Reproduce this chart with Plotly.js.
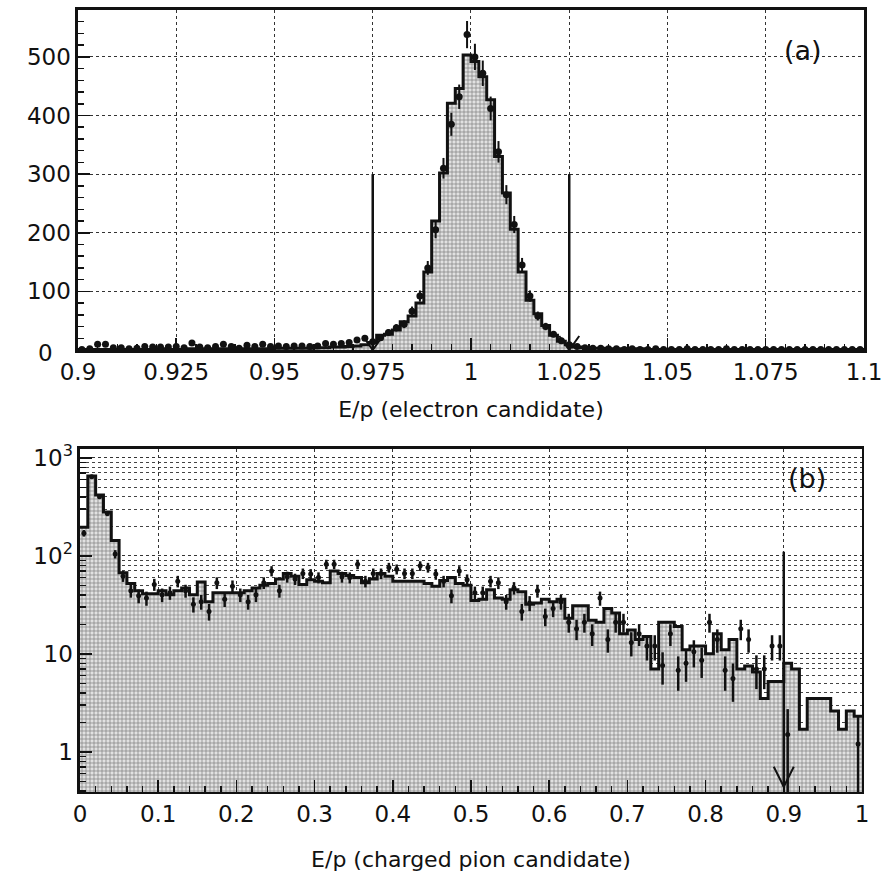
<!DOCTYPE html>
<html><head><meta charset="utf-8">
<script src="https://cdn.plot.ly/plotly-3.0.1.min.js"></script>
<style>html,body{margin:0;padding:0;background:#fff}</style>
</head><body><div id="chart" style="width:882px;height:875px"></div>
<script>
// ---- panel (a): E/p electron candidates, 100 bins 0.9-1.1 ----
const elecBinStart = 0.9, elecBinWidth = 0.002;
const elecMC = [1,1,1,1,1,1,1,1,1,1, 2,1,1,1,2,1,2,1,2,2, 2,2,2,2,2,3,3,3,3,3, 4,4,5,5,6,7,9,13,
  25,27,34,48,58,80,133,220,302,421,446,503,492,466,427,330,268,206,133,85,62,42,25,15,9,5,4,3,3,2,2,2,2,2,
  1,1,1,1,1,1,1,1,1,1,1,1,1,1,1,1,1,1,1,1,1,1,1,1,1,1,1,1];
const elecData = [1,2,10,10,4,4,2,3,6,5, 5,5,6,4,12,5,4,6,10,6, 3,8,6,10,6,7,6,7,7,6, 7,11,10,11,13,17,20,14,
  21,30,38,44,66,92,140,205,310,385,432,538,500,472,412,338,265,214,145,92,58,40,27,16,9,6,4,3,3,2,2,1,2,1,1,2,1,
  1,1,2,1,1,1,1,2,1,1,1,1,1,1,1,1,1,1,1,1,1,1,1,1,1];
const elecXTickVals = [0.9,0.925,0.95,0.975,1,1.025,1.05,1.075,1.1];
const elecXTickText = ['0.9','0.925','0.95','0.975','1','1.025','1.05','1.075','1.1'];
const elecYTickVals = [100,200,300,400,500];
const elecYZeroLabel = '0';
const elecCuts = [0.975, 1.025];
const elecCutHeight = 300;

// ---- panel (b): E/p charged pion candidates, 100 bins 0-1 ----
const pionBinStart = 0, pionBinWidth = 0.01;
const pionMC = [196,650,416,279,143,67,52,44,41,41, 44,40,44,47,40,54,34,42,42,42,
  42,44,47,50,52,58,66,62,51,57, 55,53,70,66,63,60,53,58,66,62,
  55,55,55,55,52,49,56,60,52,50, 35,36,45,37,36,45,43,32,33,36,
  34,36,23,31,31,22,21,29,26,16, 17.5,14,15,7,21,21,19,11,12,12,
  10,16,11,14,7,7.5,6.5,3.5,5.2,5.2, 8,7,1.7,3.5,3.5,3.5,2.6,1.7,2.6,2.3];
// data points; bins hidden under the histogram line in the original are left empty (null)
const pionData = [170,640,400,270,104,62,44,39,37,51, 40,42,55,44,32,34,27,53,36,49,
  40,34,40,53,70,44,61,58,66,65, 60,82,82,61,60,82,55,66,66,76,
  73,66,66,79,76,65,55,39,70,57, 42,42,55,53,34,47,27,33,44,24,
  29,34,21,18,21,16,37,14,21,21, 13,16,12,12,7.6,16,6.8,8,10.5,8.6,
  21,14,6.8,5.6,18,14,7,7,12,12, 1.5,null,null,null,null,null,null,null,null,1.2];
const pionXTickVals = [0,0.1,0.2,0.3,0.4,0.5,0.6,0.7,0.8,0.9,1];
const pionXTickText = ['0','0.1','0.2','0.3','0.4','0.5','0.6','0.7','0.8','0.9','1'];
const pionYTickVals = [1,10,100,1000];
const pionYTickText = ['1','10','10<sup>2</sup>','10<sup>3</sup>'];
const pionYMinorVals = [0.4,0.5,0.6,0.7,0.8,0.9,2,3,4,5,6,7,8,9,20,30,40,50,60,70,80,90,200,300,400,500,600,700,800,900];
const pionCut = 0.9;
const pionCutSpan = [0.44, 110];

function stepXY(start, width, vals){
  const xs=[], ys=[];
  for(let i=0;i<vals.length;i++){ xs.push(start+width*i); ys.push(vals[i]); }
  xs.push(start+width*vals.length); ys.push(vals[vals.length-1]);
  return {xs, ys};
}
function centers(start,width,n){ const c=[]; for(let i=0;i<n;i++) c.push(start+width*(i+0.5)); return c; }

const eS = stepXY(elecBinStart, elecBinWidth, elecMC);
const pS = stepXY(pionBinStart, pionBinWidth, pionMC);
const pat = {shape:'+', size:4, solidity:0.3, fgcolor:'#777', bgcolor:'#e2e2e2'};

const traces = [
  {type:'scatter', mode:'lines', x:eS.xs, y:eS.ys, xaxis:'x', yaxis:'y', line:{shape:'hv', color:'#111', width:3},
   fill:'tozeroy', fillpattern:pat, fillcolor:'#e2e2e2', hoverinfo:'skip'},
  {type:'scatter', mode:'markers', x:centers(elecBinStart,elecBinWidth,elecData.length), y:elecData, xaxis:'x', yaxis:'y',
   marker:{color:'#111', size:7}, error_y:{type:'sqrt', visible:true, color:'#111', thickness:2, width:0}},
  {type:'scatter', mode:'lines', x:pS.xs, y:pS.ys, xaxis:'x2', yaxis:'y2', line:{shape:'hv', color:'#111', width:3},
   fill:'tozeroy', fillpattern:pat, fillcolor:'#e2e2e2', hoverinfo:'skip'},
  {type:'scatter', mode:'markers', x:centers(pionBinStart,pionBinWidth,pionData.length), y:pionData, xaxis:'x2', yaxis:'y2',
   marker:{color:'#111', size:5}, error_y:{type:'sqrt', visible:true, color:'#111', thickness:2.5, width:0}}
];

const shapes = [];
elecCuts.forEach(c=>{
  shapes.push({type:'line', xref:'x', yref:'y', x0:c, x1:c, y0:0, y1:elecCutHeight, line:{color:'#111', width:2.5}});
  shapes.push({type:'path', xref:'x', yref:'y', xsizemode:'pixel', ysizemode:'pixel', xanchor:c, yanchor:0,
    path:'M-10,14 L0,0 L10,14', line:{color:'#111', width:2}});
});
shapes.push({type:'line', xref:'x2', yref:'y2', x0:pionCut, x1:pionCut, y0:pionCutSpan[0], y1:pionCutSpan[1], line:{color:'#111', width:2.5}});
shapes.push({type:'path', xref:'x2', yref:'y2', xsizemode:'pixel', ysizemode:'pixel', xanchor:pionCut, yanchor:pionCutSpan[0],
  path:'M-10,20 L0,0 L10,20', line:{color:'#111', width:2}});

const fnt = {family:'DejaVu Sans', size:23, color:'#111'};
const titleFnt = {family:'DejaVu Sans', size:22, color:'#111'};
const common = {showline:true, mirror:true, linewidth:2.5, linecolor:'#111', zeroline:false, ticklabeloverflow:'allow',
  showgrid:true, griddash:'dot', gridcolor:'#333', gridwidth:1, tickfont:fnt, ticks:'inside', tickcolor:'#111', tickwidth:1.5};

const layout = {
  width:882, height:875, margin:{l:0,r:0,t:0,b:0}, paper_bgcolor:'white', plot_bgcolor:'white', showlegend:false,
  font:fnt,
  xaxis: Object.assign({}, common, {domain:[0.0884,0.9796], anchor:'y', range:[0.9,1.1], tickvals:elecXTickVals, ticktext:elecXTickText,
    ticklen:12, minor:{dtick:0.005, tick0:0.9, ticks:'inside', ticklen:6, tickcolor:'#111', showgrid:false},
    title:{text:'E/p (electron candidate)', font:titleFnt, standoff:18}}),
  yaxis: Object.assign({}, common, {domain:[0.6,0.9886], anchor:'x', range:[0,580], tickvals:elecYTickVals,
    ticklen:12, minor:{dtick:20, tick0:0, ticks:'inside', ticklen:6, tickcolor:'#111', showgrid:false}}),
  xaxis2: Object.assign({}, common, {domain:[0.0907,0.9773], anchor:'y2', range:[0,1], tickvals:pionXTickVals, ticktext:pionXTickText,
    ticklen:12, minor:{dtick:0.02, tick0:0, ticks:'inside', ticklen:6, tickcolor:'#111', showgrid:false},
    title:{text:'E/p (charged pion candidate)', font:titleFnt, standoff:26}}),
  yaxis2: Object.assign({}, common, {domain:[0.0949,0.4869], anchor:'x2', type:'log', range:[-0.41,3.09],
    tickvals:pionYTickVals, ticktext:pionYTickText, ticklen:12,
    minor:{tickvals:pionYMinorVals, ticks:'inside', ticklen:6, tickcolor:'#111', showgrid:true, griddash:'dot', gridcolor:'#444', gridwidth:1}}),
  shapes: shapes,
  annotations: [
    {text:elecYZeroLabel, xref:'paper', yref:'y', x:0.052, y:0, xanchor:'center', yanchor:'top', yshift:12, showarrow:false, font:fnt},
    {text:'(a)', xref:'x domain', yref:'y domain', x:0.922, y:0.882, xanchor:'center', yanchor:'middle', showarrow:false, font:{family:'DejaVu Sans', size:27, color:'#111'}},
    {text:'(b)', xref:'x2 domain', yref:'y2 domain', x:0.93, y:0.915, xanchor:'center', yanchor:'middle', showarrow:false, font:{family:'DejaVu Sans', size:27, color:'#111'}}
  ]
};

Plotly.newPlot('chart', traces, layout, {staticPlot:true, displayModeBar:false});
</script></body></html>
